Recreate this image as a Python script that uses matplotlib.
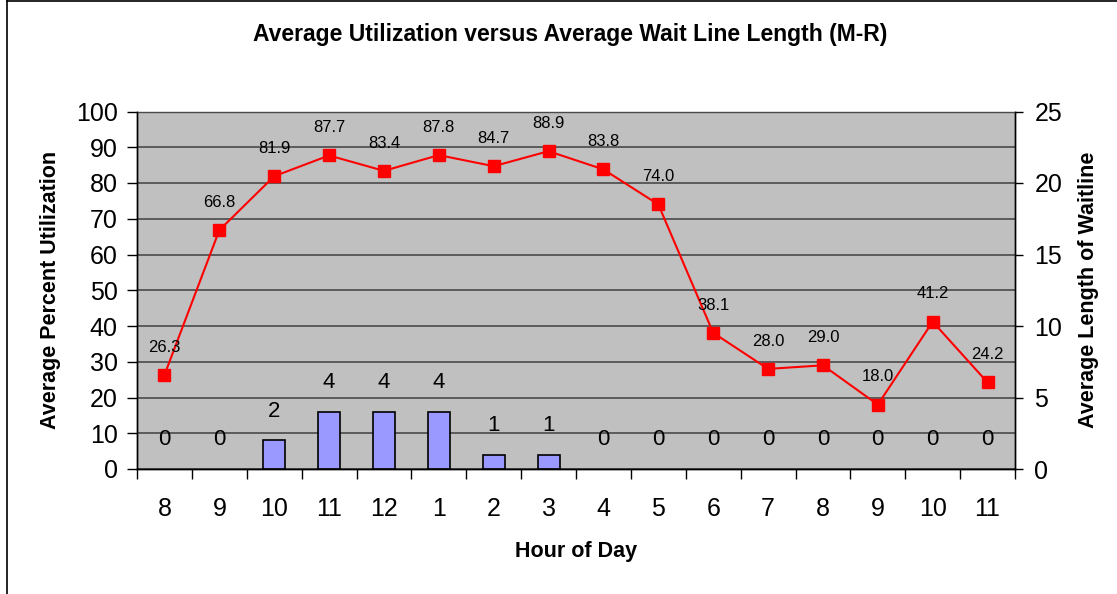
import matplotlib
matplotlib.use("Agg")
import matplotlib.pyplot as plt
from matplotlib.lines import Line2D
import numpy as np

hours = ["8", "9", "10", "11", "12", "1", "2", "3", "4", "5", "6", "7", "8", "9", "10", "11"]
utilization = [26.3, 66.8, 81.9, 87.7, 83.4, 87.8, 84.7, 88.9, 83.8, 74.0, 38.1, 28.0, 29.0, 18.0, 41.2, 24.2]
waitline = [0, 0, 2, 4, 4, 4, 1, 1, 0, 0, 0, 0, 0, 0, 0, 0]

plt.rcParams['font.family'] = ['Liberation Sans', 'DejaVu Sans']

fig = plt.figure(figsize=(11.17, 5.94), dpi=100)
ax = fig.add_axes([137/1117, 1 - 469/594, (1015-137)/1117, (469-111.5)/594])
ax2 = ax.twinx()

x = np.arange(len(hours))
ax.set_facecolor('#C0C0C0')
ax.set_zorder(1)
ax2.set_zorder(2)
ax2.patch.set_visible(False)

ax.set_ylim(0, 100)
ax.set_yticks(np.arange(0, 101, 10))
ax.yaxis.grid(True, color='#4a4a4a', linewidth=1.2)
ax.set_axisbelow(True)

# bars on secondary axis
edges = ['black' if v > 0 else 'none' for v in waitline]
ax2.bar(x, waitline, width=0.4, color='#9999FF', edgecolor=edges, linewidth=1.2, zorder=2)
ax2.set_ylim(0, 25)
ax2.set_yticks(np.arange(0, 26, 5))
for xi, v in zip(x, waitline):
    ax2.annotate(str(v), (xi, v), xytext=(0, 21), textcoords='offset points',
                 ha='center', va='center', fontsize=16, zorder=5)

ax3 = ax.twinx()
ax3.set_zorder(3)
ax3.patch.set_visible(False)
ax3.set_ylim(0, 100)
ax3.plot(x, utilization, color='#FF0000', marker='s', markersize=8, linewidth=1.5, zorder=3)
for xi, v in zip(x, utilization):
    ax3.annotate(f"{v:.1f}", (xi, v), xytext=(0, 20), textcoords='offset points',
                 ha='center', va='center', fontsize=12)
ax3.axis('off')

for a in (ax, ax2, ax3):
    a.set_xlim(-0.5, len(hours) - 0.5)

ax.set_xticks(x)
ax.set_xticklabels(hours, fontsize=18)
ax.set_xticks(np.arange(-0.5, len(hours), 1), minor=True)
ax.tick_params(axis='x', which='major', length=0, pad=20)
ax.tick_params(axis='x', which='minor', length=7, direction='out', width=1)
ax.tick_params(axis='y', labelsize=18, length=7, direction='out', width=1, pad=7)
ax2.tick_params(axis='y', labelsize=18, length=6, direction='out', width=1, pad=8)

for a in (ax, ax2):
    for s in a.spines.values():
        s.set_color('black')
        s.set_linewidth(1)
ax.spines['top'].set_color('#4a4a4a')
ax2.spines['top'].set_visible(False)

ax.set_ylabel('Average Percent Utilization', fontsize=15.5, fontweight='bold')
ax.yaxis.set_label_coords((61 - 137) / 878, 0.5)
ax2.set_ylabel('Average Length of Waitline', fontsize=15.5, fontweight='bold', rotation=90)
ax2.yaxis.set_label_coords((1078 - 137) / 878, 0.5)
ax.set_xlabel('Hour of Day', fontsize=15.5, fontweight='bold')
ax.xaxis.set_label_coords(0.5, (469 - 541) / 357.5)

fig.text(570/1117, 1 - 35/594, 'Average Utilization versus Average Wait Line Length (M-R)',
         ha='center', va='center', fontsize=16.5, fontweight='bold')

# outer border (left and top)
fig.add_artist(Line2D([6.5/1117, 6.5/1117], [0, 1 - 1/594], color='black', linewidth=1.2, transform=fig.transFigure))
fig.add_artist(Line2D([6.5/1117, 1], [1 - 1/594, 1 - 1/594], color='black', linewidth=1.2, transform=fig.transFigure))

fig.savefig('out.png', dpi=100)
